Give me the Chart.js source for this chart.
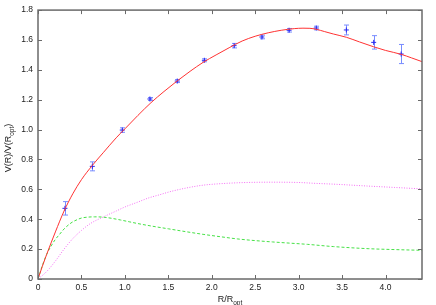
<!DOCTYPE html>
<html>
<head>
<meta charset="utf-8">
<script src="https://cdn.jsdelivr.net/npm/chart.js@4"></script>
<style>
html, body { margin: 0; padding: 0; background: #fff; }
#wrap { width: 436px; height: 305px; }
</style>
</head>
<body>
<div id="wrap"><canvas id="grafico" width="436" height="305"></canvas></div>
<script>
// pontos medidos (azul, com barras de erro)
var pontosR = [0.31, 0.625, 0.97, 1.288, 1.603, 1.915, 2.257, 2.577, 2.89, 3.203, 3.549, 3.864, 4.18];
var pontosV = [0.473, 0.754, 0.997, 1.205, 1.325, 1.464, 1.562, 1.62, 1.665, 1.68, 1.667, 1.584, 1.506];
var pontosErro = [0.045, 0.03, 0.015, 0.01, 0.01, 0.01, 0.015, 0.012, 0.012, 0.012, 0.033, 0.045, 0.064];

// curva de ajuste (vermelha)
var ajusteR = [0, 0.05, 0.1, 0.2, 0.3, 0.4, 0.5, 0.625, 0.75, 0.9, 1.0, 1.15, 1.3, 1.45, 1.6, 1.75, 1.9, 2.05, 2.2, 2.35, 2.5, 2.65, 2.8, 2.95, 3.05, 3.13, 3.2, 3.3, 3.4, 3.55, 3.7, 3.86, 4.0, 4.18, 4.3, 4.42];
var ajusteV = [0, 0.085, 0.165, 0.315, 0.455, 0.57, 0.665, 0.76, 0.845, 0.945, 1.005, 1.095, 1.18, 1.255, 1.325, 1.39, 1.45, 1.5, 1.548, 1.593, 1.625, 1.648, 1.665, 1.676, 1.679, 1.678, 1.672, 1.656, 1.64, 1.618, 1.587, 1.555, 1.53, 1.504, 1.48, 1.455];

// componente verde (tracejada)
var verdeR = [0, 0.05, 0.1, 0.15, 0.2, 0.25, 0.3, 0.38, 0.45, 0.5, 0.57, 0.65, 0.75, 0.85, 0.95, 1.05, 1.15, 1.3, 1.5, 1.7, 1.9, 2.1, 2.3, 2.5, 2.7, 2.9, 3.1, 3.4, 3.8, 4.1, 4.42];
var verdeV = [0, 0.09, 0.165, 0.22, 0.265, 0.3, 0.335, 0.375, 0.397, 0.408, 0.414, 0.416, 0.414, 0.406, 0.395, 0.383, 0.371, 0.355, 0.336, 0.317, 0.299, 0.283, 0.268, 0.257, 0.248, 0.24, 0.232, 0.217, 0.203, 0.197, 0.192];

// componente magenta (pontilhada)
var rosaR = [0, 0.1, 0.2, 0.3, 0.4, 0.5, 0.6, 0.75, 0.9, 1.0, 1.15, 1.27, 1.4, 1.53, 1.75, 1.9, 2.1, 2.4, 2.7, 3.0, 3.2, 3.4, 3.8, 4.1, 4.42];
var rosaV = [0, 0.05, 0.12, 0.2, 0.27, 0.325, 0.37, 0.415, 0.455, 0.482, 0.515, 0.542, 0.564, 0.586, 0.614, 0.628, 0.638, 0.646, 0.648, 0.646, 0.64, 0.635, 0.622, 0.613, 0.603];

var ticksX = [0, 0.5, 1, 1.5, 2, 2.5, 3, 3.5, 4];
var ticksY = [0, 0.2, 0.4, 0.6, 0.8, 1, 1.2, 1.4, 1.6, 1.8];

function pares(xs, ys) {
  return xs.map(function(x, i) { return { x: x, y: ys[i] }; });
}

var fonte = '"Liberation Sans", Arial, sans-serif';

// moldura estilo gnuplot, ticks para dentro, barras de erro e titulos dos eixos
var moldura = {
  id: 'moldura',
  beforeDatasetsDraw: function(chart) {
    var c = chart.ctx, a = chart.chartArea;
    var sx = chart.scales.x, sy = chart.scales.y;
    c.save();
    c.strokeStyle = 'rgb(120,140,255)';
    c.lineWidth = 1;
    for (var i = 0; i < pontosR.length; i++) {
      var px = Math.round(sx.getPixelForValue(pontosR[i])) + 0.5;
      var y1 = sy.getPixelForValue(pontosV[i] - pontosErro[i]);
      var y2 = sy.getPixelForValue(pontosV[i] + pontosErro[i]);
      c.beginPath();
      c.moveTo(px, y1); c.lineTo(px, y2);
      c.moveTo(px - 2.5, y1); c.lineTo(px + 2.5, y1);
      c.moveTo(px - 2.5, y2); c.lineTo(px + 2.5, y2);
      c.stroke();
    }
    c.restore();
  },
  afterDraw: function(chart) {
    var c = chart.ctx, a = chart.chartArea;
    var sx = chart.scales.x, sy = chart.scales.y;
    c.save();
    c.strokeStyle = '#6a6a6a';
    c.lineWidth = 1.5;
    c.strokeRect(a.left, a.top, a.right - a.left, a.bottom - a.top);
    c.lineWidth = 1;
    c.beginPath();
    ticksX.forEach(function(v) {
      var px = Math.round(sx.getPixelForValue(v)) + 0.5;
      c.moveTo(px, a.bottom); c.lineTo(px, a.bottom - 4);
      c.moveTo(px, a.top); c.lineTo(px, a.top + 4);
    });
    ticksY.forEach(function(v) {
      var py = Math.round(sy.getPixelForValue(v)) + 0.5;
      c.moveTo(a.left, py); c.lineTo(a.left + 4, py);
      c.moveTo(a.right, py); c.lineTo(a.right - 4, py);
    });
    c.stroke();

    // titulos
    c.fillStyle = '#222';
    c.textBaseline = 'alphabetic';
    var grande = '9px ' + fonte, pequeno = '6.5px ' + fonte;
    c.font = grande;
    var w1 = c.measureText('R/R').width;
    c.font = pequeno;
    var w2 = c.measureText('opt').width;
    var x0 = (a.left + a.right) / 2 - (w1 + w2) / 2;
    c.font = grande;
    c.textAlign = 'left';
    c.fillText('R/R', x0, 302);
    c.font = pequeno;
    c.fillText('opt', x0 + w1, 305);

    c.translate(11, 148);
    c.rotate(-Math.PI / 2);
    c.font = grande;
    var t1 = c.measureText('V(R)/V(R').width;
    var t3 = c.measureText(')').width;
    c.font = pequeno;
    var t2 = c.measureText('opt').width;
    var s = -(t1 + t2 + t3) / 2;
    c.font = grande;
    c.fillText('V(R)/V(R', s, 0);
    c.font = pequeno;
    c.fillText('opt', s + t1, 2.5);
    c.font = grande;
    c.fillText(')', s + t1 + t2, 0);
    c.restore();
  }
};

var ctx = document.getElementById('grafico').getContext('2d');
var chart = new Chart(ctx, {
  type: 'scatter',
  data: {
    datasets: [{
      label: 'ajuste',
      data: pares(ajusteR, ajusteV),
      showLine: true,
      borderColor: 'rgb(255,50,50)',
      borderWidth: 1,
      pointRadius: 0,
      cubicInterpolationMode: 'monotone'
    }, {
      label: 'verde',
      data: pares(verdeR, verdeV),
      showLine: true,
      borderColor: 'rgb(70,225,70)',
      borderWidth: 1,
      borderDash: [3, 2],
      pointRadius: 0,
      cubicInterpolationMode: 'monotone'
    }, {
      label: 'rosa',
      data: pares(rosaR, rosaV),
      showLine: true,
      borderColor: 'rgb(245,110,245)',
      borderWidth: 1,
      borderDash: [1, 1.5],
      pointRadius: 0,
      cubicInterpolationMode: 'monotone'
    }, {
      label: 'pontos',
      data: pares(pontosR, pontosV),
      showLine: false,
      pointStyle: 'cross',
      pointRadius: 2.5,
      borderColor: 'rgb(40,40,240)',
      borderWidth: 1
    }]
  },
  options: {
    responsive: false,
    animation: false,
    layout: { padding: { left: 0, right: 14, top: 10, bottom: 0 } },
    plugins: { legend: { display: false }, tooltip: { enabled: false } },
    scales: {
      x: {
        type: 'linear', min: 0, max: 4.42,
        afterBuildTicks: function(s) { s.ticks = ticksX.map(function(v) { return { value: v }; }); },
        afterFit: function(s) { s.height = 26; },
        grid: { display: false, drawTicks: false },
        border: { display: false },
        ticks: { color: '#222', padding: 4, maxRotation: 0, font: { family: fonte, size: 8.5 } }
      },
      y: {
        type: 'linear', min: 0, max: 1.8,
        afterBuildTicks: function(s) { s.ticks = ticksY.map(function(v) { return { value: v }; }); },
        afterFit: function(s) { s.width = 38; },
        grid: { display: false, drawTicks: false },
        border: { display: false },
        ticks: { color: '#222', padding: 5, font: { family: fonte, size: 8.5 } }
      }
    }
  },
  plugins: [moldura]
});
</script>
</body>
</html>
